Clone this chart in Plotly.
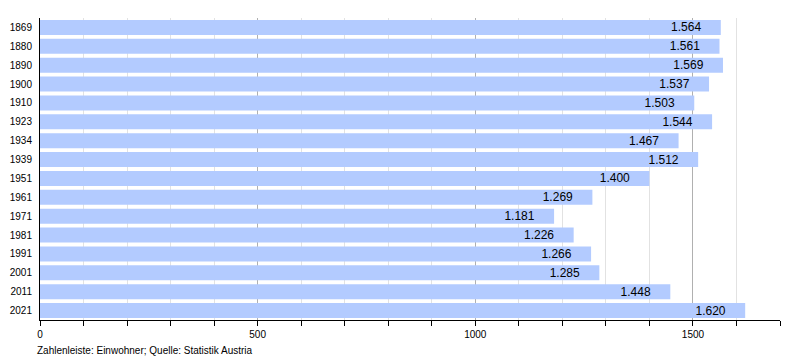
import plotly.graph_objects as go

years = ["1869", "1880", "1890", "1900", "1910", "1923", "1934", "1939", "1951",
         "1961", "1971", "1981", "1991", "2001", "2011", "2021"]
population = [1564, 1561, 1569, 1537, 1503, 1544, 1467, 1512, 1400,
              1269, 1181, 1226, 1266, 1285, 1448, 1620]
source_note = "Zahlenleiste: Einwohner; Quelle: Statistik Austria"

FONT = "Liberation Sans, Arial, Helvetica, sans-serif"
PAD = "\u00a0" * 5

fig = go.Figure()
fig.add_trace(go.Bar(
    y=years, x=population, orientation="h",
    marker=dict(color="#b3cbff", line=dict(width=0)),
    width=0.8, hoverinfo="skip",
    texttemplate="%{x:,}" + PAD, textposition="inside", insidetextanchor="end",
    textfont=dict(family=FONT, size=12, color="black"),
    constraintext="none",
))

fig.update_layout(
    width=792, height=352,
    margin=dict(l=32, r=20, t=10, b=40, autoexpand=False),
    plot_bgcolor="white", paper_bgcolor="white",
    separators=",.",
    showlegend=False,
    font=dict(family=FONT, size=10, color="black"),
    xaxis=dict(
        range=[0, 1700], dtick=500, tick0=0,
        showgrid=True, gridcolor="#b0b0b0", gridwidth=1,
        showline=True, linecolor="black", linewidth=1,
        ticks="outside", ticklen=5, tickcolor="black",
        tickfont=dict(size=10),
        zeroline=False,
        minor=dict(dtick=100, showgrid=True, gridcolor="#e2e2e2",
                   ticks="outside", ticklen=5, tickcolor="black"),
        fixedrange=True,
    ),
    yaxis=dict(
        type="category",
        autorange="reversed", showline=True, linecolor="black", linewidth=1,
        ticks="outside", ticklen=5, tickcolor="rgba(0,0,0,0)",
        tickfont=dict(size=10), showgrid=False, fixedrange=True,
    ),
    annotations=[dict(
        text=source_note, xref="paper", yref="paper", x=-0.0068, y=-0.1026,
        xanchor="left", yanchor="middle", showarrow=False,
        font=dict(family=FONT, size=10, color="black"),
    )],
)

fig.write_html("out.html")
